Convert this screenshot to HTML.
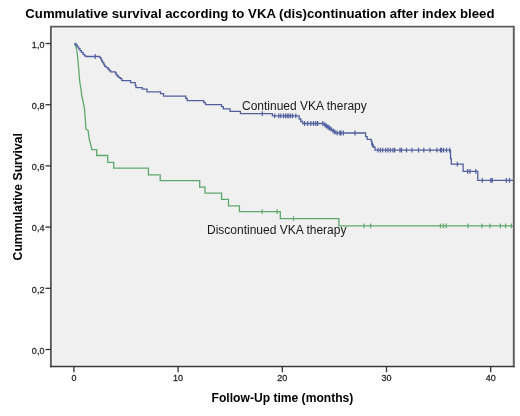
<!DOCTYPE html>
<html><head><meta charset="utf-8"><style>
html,body{margin:0;padding:0;background:#fff;width:520px;height:416px;overflow:hidden}
svg{display:block;filter:blur(0.35px)}
text{font-family:"Liberation Sans",sans-serif;fill:#111}
.tk{font-size:9.4px;fill:#222;stroke:#333;stroke-width:0.3px}
.lb{font-size:12px;fill:#1a1a1a}
.ti{font-size:13.2px;font-weight:bold;fill:#000}
.ax{font-size:12.1px;font-weight:bold;fill:#000}
.ay{font-size:12.2px;font-weight:bold;fill:#000}
</style></head><body>
<svg width="520" height="416" viewBox="0 0 520 416">
<rect x="51" y="27" width="462.5" height="339.5" fill="#f0f0f0"/>
<path d="M52.4,28V365.6M52.4,28.1H512.6M52.4,365.4H512.6" fill="none" stroke="#f8f8f8" stroke-width="1"/>
<path d="M50.9,26.6V367.2M513.8,26.6V367.2M50,26.6H514.7" fill="none" stroke="#5c5c5c" stroke-width="1.9"/>
<path d="M50,366.5H514.7" fill="none" stroke="#3a3a3a" stroke-width="1.3"/>
<path d="M45.5,43.5H51" stroke="#333" stroke-width="1.3"/>
<text transform="translate(44.4,47.6) scale(0.96,1)" text-anchor="end" class="tk">1,0</text>
<path d="M45.5,104.7H51" stroke="#333" stroke-width="1.3"/>
<text transform="translate(44.4,109.4) scale(0.96,1)" text-anchor="end" class="tk">0,8</text>
<path d="M45.5,165.9H51" stroke="#333" stroke-width="1.3"/>
<text transform="translate(44.4,169.9) scale(0.96,1)" text-anchor="end" class="tk">0,6</text>
<path d="M45.5,227.1H51" stroke="#333" stroke-width="1.3"/>
<text transform="translate(44.4,231.2) scale(0.96,1)" text-anchor="end" class="tk">0,4</text>
<path d="M45.5,288.3H51" stroke="#333" stroke-width="1.3"/>
<text transform="translate(44.4,292.6) scale(0.96,1)" text-anchor="end" class="tk">0,2</text>
<path d="M45.5,349.5H51" stroke="#333" stroke-width="1.3"/>
<text transform="translate(44.4,353.8) scale(0.96,1)" text-anchor="end" class="tk">0,0</text>
<path d="M73.9,366.5V372.3" stroke="#333" stroke-width="1.3"/>
<text transform="translate(73.9,380.6) scale(0.96,1)" text-anchor="middle" class="tk">0</text>
<path d="M178.1,366.5V372.3" stroke="#333" stroke-width="1.3"/>
<text transform="translate(178.1,380.6) scale(0.96,1)" text-anchor="middle" class="tk">10</text>
<path d="M282.3,366.5V372.3" stroke="#333" stroke-width="1.3"/>
<text transform="translate(282.3,380.6) scale(0.96,1)" text-anchor="middle" class="tk">20</text>
<path d="M386.5,366.5V372.3" stroke="#333" stroke-width="1.3"/>
<text transform="translate(386.5,380.6) scale(0.96,1)" text-anchor="middle" class="tk">30</text>
<path d="M490.7,366.5V372.3" stroke="#333" stroke-width="1.3"/>
<text transform="translate(490.7,380.6) scale(0.96,1)" text-anchor="middle" class="tk">40</text>
<path d="M74.4,43.5 L76.2,47.5 L77.2,53.0 L77.8,59.2 L78.7,68.8 L79.6,80.0 L80.2,84.6 L81.1,89.4 L81.6,95.2 L82.6,99.0 L83.5,103.8 L84.5,108.7 L85.2,117.7 L86.0,129.2 L88.1,130.4 L89.1,138.8 L90.5,143.7 L91.8,149.6H96.7V155.5H107.7V162.3H113.7V168.2H148.4V174.8H160.2V180.6H199.7V187.1H205.0V193.1H221.6V199.4H228.5V205.9H239.4V211.6H280.3V218.6H338.9V225.9H513.0V225.9" fill="none" stroke="#5ea86c" stroke-width="1.3"/>
<path d="M262.1,209.2V214.0M277.1,209.2V214.0M293.5,216.2V221.0M364.0,223.5V228.3M370.7,223.5V228.3M440.4,223.5V228.3M443.3,223.5V228.3M446.1,223.5V228.3M468.1,223.5V228.3M481.9,223.5V228.3M490.0,223.5V228.3M500.4,223.5V228.3M505.6,223.5V228.3M511.3,223.5V228.3" fill="none" stroke="#5ea86c" stroke-width="1.2"/>
<path d="M74.5,43.5H75.8V45.0H77.2V46.8H78.6V48.6H80.0V50.6H81.4V52.4H83.0V54.4H84.6V55.8H86.0V56.5H99.8V57.6H100.8V59.2H101.6V61.0H102.6V62.6H103.8V64.4H104.6V66.4H106.4V67.6H108.0V69.0H109.3V70.6H110.6V71.9H115.4V73.0H116.2V75.0H117.6V76.5H118.9V77.6H120.4V78.6H121.8V80.6H130.6V82.6H135.2V85.2H135.9V87.6H142.2V89.2H147.0V91.8H160.5V93.6H163.6V96.1H185.8V98.4H187.2V100.6H203.8V102.6H205.5V104.7H221.5V106.6H223.3V108.9H230.0V111.4H240.4V113.6H272.4V115.9H299.2V119.0H300.8V121.5H302.6V123.5H324.2V125.0H325.8V126.0H327.2V127.0H328.6V128.0H330.0V129.0H331.4V130.0H332.8V131.0H334.2V132.0H335.8V133.0H365.6V136.6H367.2V139.3H371.2V141.0H371.8V144.5H373.2V147.0H375.0V150.1H450.5V158.5H451.3V164.2H463.1V171.3H477.8V180.4H513.0V180.4" fill="none" stroke="#525f9e" stroke-width="1.3"/>
<path d="M95.2,54.1V58.9M262.3,111.2V116.0M274.7,113.5V118.3M278.8,113.5V118.3M280.8,113.5V118.3M283.5,113.5V118.3M285.5,113.5V118.3M287.2,113.5V118.3M288.8,113.5V118.3M290.6,113.5V118.3M292.6,113.5V118.3M295.8,113.5V118.3M304.6,121.1V125.9M307.7,121.1V125.9M310.8,121.1V125.9M313.5,121.1V125.9M315.8,121.1V125.9M317.6,121.1V125.9M322.8,121.1V125.9M325.0,122.6V127.4M326.5,123.6V128.4M328.0,124.6V129.4M329.4,125.6V130.4M331.0,126.6V131.4M333.2,128.6V133.4M334.9,129.6V134.4M337.2,130.6V135.4M339.8,130.6V135.4M341.0,130.6V135.4M343.3,130.6V135.4M355.0,130.6V135.4M372.4,142.1V146.9M378.0,147.7V152.5M380.4,147.7V152.5M382.7,147.7V152.5M385.8,147.7V152.5M388.0,147.7V152.5M390.4,147.7V152.5M393.0,147.7V152.5M394.6,147.7V152.5M400.0,147.7V152.5M401.5,147.7V152.5M406.5,147.7V152.5M411.9,147.7V152.5M418.5,147.7V152.5M423.8,147.7V152.5M430.0,147.7V152.5M436.9,147.7V152.5M440.4,147.7V152.5M441.5,147.7V152.5M443.5,147.7V152.5M446.5,147.7V152.5M449.6,147.7V152.5M457.3,161.8V166.6M467.7,168.9V173.7M470.0,168.9V173.7M475.8,168.9V173.7M482.3,178.0V182.8M490.8,178.0V182.8M492.2,178.0V182.8M506.3,178.0V182.8M509.5,178.0V182.8" fill="none" stroke="#525f9e" stroke-width="1.2"/>
<text x="242" y="110" class="lb">Continued VKA therapy</text>
<text x="207" y="233.8" class="lb">Discontinued VKA therapy</text>
<text x="25.3" y="17.8" class="ti">Cummulative survival according to VKA (dis)continuation after index bleed</text>
<text x="211.6" y="401.5" class="ax">Follow-Up time (months)</text>
<text transform="translate(22.4,260.4) rotate(-90)" x="0" y="0" class="ay">Cummulative Survival</text>
</svg>
</body></html>
